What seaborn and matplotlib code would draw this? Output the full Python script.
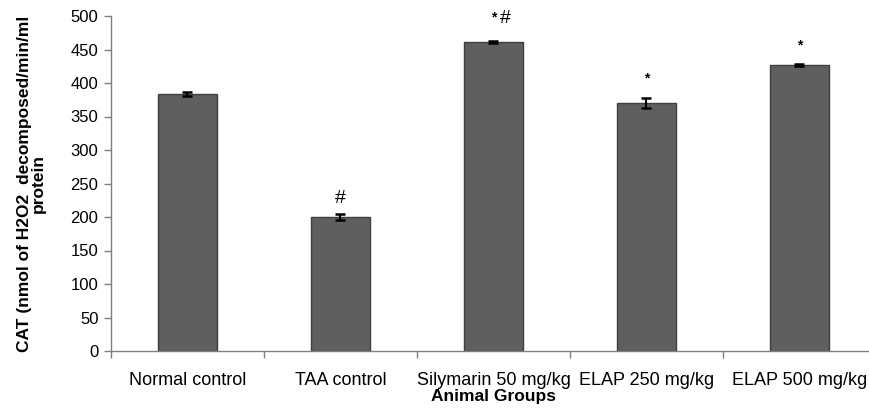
import matplotlib
matplotlib.use("Agg")
import matplotlib.pyplot as plt
import seaborn as sns
import pandas as pd
import numpy as np

groups = ["Normal control", "TAA control", "Silymarin 50 mg/kg", "ELAP 250 mg/kg", "ELAP 500 mg/kg"]
values = [383, 200, 461, 370, 427]
errors = [3, 5, 2, 8, 1]
marks = ["", "#", "*#", "*", "*"]
yticks = [0, 50, 100, 150, 200, 250, 300, 350, 400, 450, 500]

sns.set_theme(style="white", rc={"text.color": "black", "axes.labelcolor": "black",
                                 "xtick.color": "black", "ytick.color": "black"})
plt.rcParams['font.family'] = ['Liberation Sans', 'DejaVu Sans']

df = pd.DataFrame({"group": groups, "value": values})

fig = plt.figure(figsize=(8.7, 4.13), dpi=100)
ax = fig.add_axes([111/870, 62/413, 765/870, 335/413])
sns.barplot(data=df, x="group", y="value", ax=ax, color="#5f5f5f",
            width=0.39, edgecolor="#3f3f3f", linewidth=1.0, saturation=1, errorbar=None)
x = np.arange(len(groups))
ax.errorbar(x, values, yerr=errors, fmt="none", ecolor="black", elinewidth=1.5, capsize=3.5, capthick=1.8)

for xi, v, e, m in zip(x, values, errors, marks):
    if not m:
        continue
    if m == "#":
        ax.text(xi, v + e + 10, "#", ha="center", va="bottom", fontsize=14)
    elif m == "*#":
        ax.text(xi, v + 26, "*", ha="center", va="bottom", fontsize=10, fontweight="bold")
        ax.text(xi + 0.08, v + 22, "#", ha="center", va="bottom", fontsize=14)
    else:
        ax.text(xi, v + e + 18, "*", ha="center", va="bottom", fontsize=10, fontweight="bold")

ax.set_ylim(0, 500)
ax.set_xlim(-0.5, 4.5)
ax.set_yticks(yticks)
ax.set_yticklabels([str(t) for t in yticks], fontsize=12)
ax.set_xticks(x)
ax.set_xticklabels(groups, fontsize=13)
ax.tick_params(axis="x", which="major", length=0, pad=15, labelcolor="black")
ax.set_xticks(np.arange(-0.5, 5.0, 1.0), minor=True)
ax.tick_params(axis="x", which="minor", length=5, color="#808080", width=1, direction="out", bottom=True)
ax.tick_params(axis="y", length=5, color="#808080", width=1, direction="out", left=True, pad=4,
               labelcolor="black")

for s in ["top", "right"]:
    ax.spines[s].set_visible(False)
for s in ["left", "bottom"]:
    ax.spines[s].set_color("#808080")
    ax.spines[s].set_linewidth(1)

ax.set_xlabel("Animal Groups", fontsize=12.5, fontweight="bold", labelpad=0, color="black")
ax.set_ylabel("CAT (nmol of H2O2  decomposed/min/ml\nprotein", fontsize=12.5, fontweight="bold",
              linespacing=0.95, color="black")
ax.yaxis.set_label_coords(-0.085, 0.5)

fig.savefig("out.png", dpi=100)
